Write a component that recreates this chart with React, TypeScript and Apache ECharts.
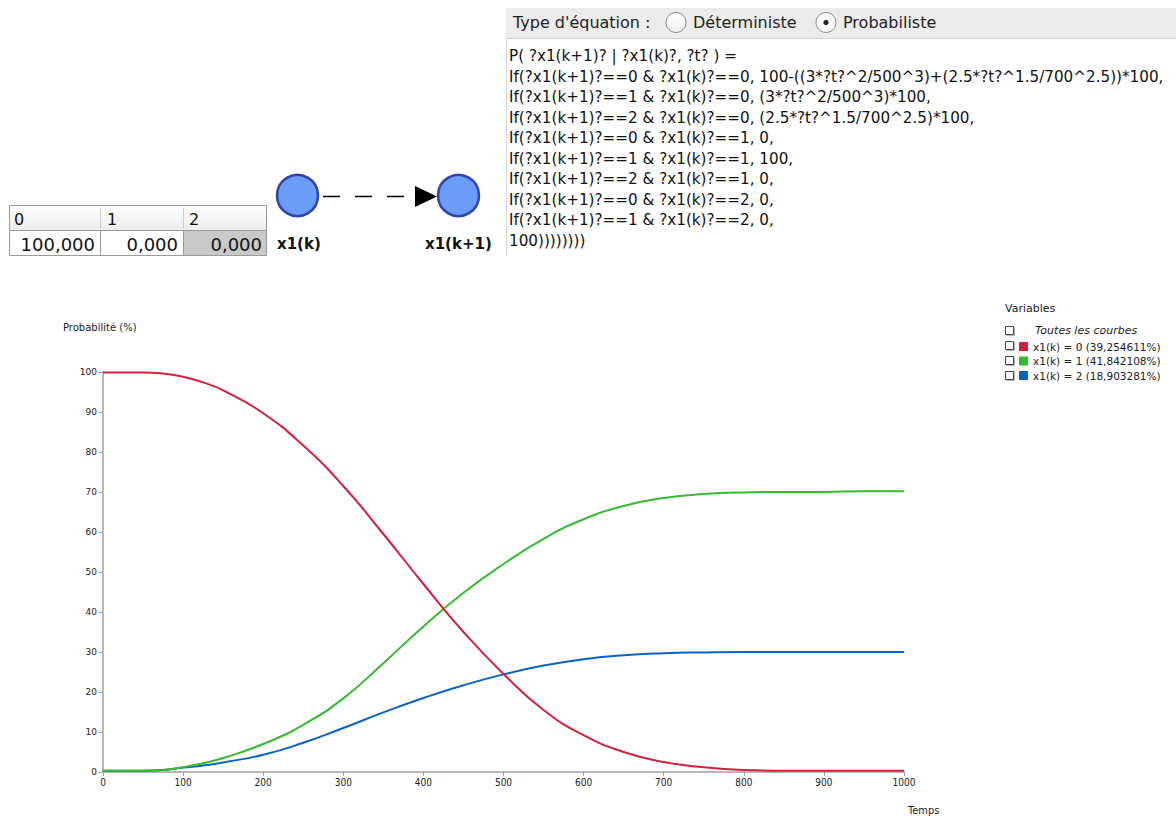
import React, { useEffect, useRef } from "react";
import * as echarts from "echarts";

const TIME = [0, 50, 75, 100, 125, 150, 200, 250, 300, 350, 400, 450, 500, 550, 600, 650, 700, 750, 800, 850, 900, 950, 1000];
const RED = [99.9, 99.9, 99.6, 98.8, 97.4, 95.4, 89.7, 81.6, 71.5, 59.5, 47, 35, 24.5, 15.5, 9.2, 5, 2.5, 1.2, 0.5, 0.3, 0.3, 0.3, 0.3];
const GREEN = [0.3, 0.3, 0.5, 1.2, 2.2, 3.5, 7, 11.8, 18.4, 27.2, 36.4, 44.8, 52, 58.3, 63.2, 66.5, 68.5, 69.5, 69.9, 70, 70, 70.2, 70.2];
const BLUE = [0.3, 0.3, 0.5, 1.1, 1.6, 2.4, 4.3, 7.3, 11, 14.9, 18.5, 21.7, 24.4, 26.6, 28.2, 29.2, 29.7, 29.9, 30, 30, 30, 30, 30];
const SERIES_NAMES = ["x1(k) = 0 (39,254611%)", "x1(k) = 1 (41,842108%)", "x1(k) = 2 (18,903281%)"];
const COLORS = ["#d42040", "#36bb30", "#0a62c8"];
const TABLE_HEAD = ["0", "1", "2"];
const TABLE_VALUES = ["100,000", "0,000", "0,000"];
const EQUATION = [
  "P( ?x1(k+1)? | ?x1(k)?, ?t? ) =",
  "If(?x1(k+1)?==0 & ?x1(k)?==0, 100-((3*?t?^2/500^3)+(2.5*?t?^1.5/700^2.5))*100,",
  "If(?x1(k+1)?==1 & ?x1(k)?==0, (3*?t?^2/500^3)*100,",
  "If(?x1(k+1)?==2 & ?x1(k)?==0, (2.5*?t?^1.5/700^2.5)*100,",
  "If(?x1(k+1)?==0 & ?x1(k)?==1, 0,",
  "If(?x1(k+1)?==1 & ?x1(k)?==1, 100,",
  "If(?x1(k+1)?==2 & ?x1(k)?==1, 0,",
  "If(?x1(k+1)?==0 & ?x1(k)?==2, 0,",
  "If(?x1(k+1)?==1 & ?x1(k)?==2, 0,",
  "100))))))))",
];

const UI = "'DejaVu Sans', 'Noto Sans', sans-serif";
const NARROW = "'Liberation Sans Narrow', 'DejaVu Sans Condensed', sans-serif";

export default function App() {
  const ref = useRef<HTMLDivElement>(null);
  useEffect(() => {
    if (!ref.current) return;
    const chart = echarts.init(ref.current, null, { renderer: "svg" });
    const seriesData = [RED, GREEN, BLUE];
    const g: any[] = [];
    const txt = (x: number, y: number, text: string, o: any = {}) =>
      g.push({
        type: "text",
        x,
        y,
        silent: true,
        style: {
          text,
          fill: o.fill || "#111",
          fontSize: o.size || 12,
          fontFamily: o.family || UI,
          fontWeight: o.weight || "normal",
          fontStyle: o.style || "normal",
          align: o.align || "left",
          verticalAlign: "middle",
        },
      });

    // Table
    g.push({ type: "rect", shape: { x: 9.5, y: 205.5, width: 257, height: 25 }, style: { fill: new echarts.graphic.LinearGradient(0, 0, 0, 1, [{ offset: 0, color: "#ffffff" }, { offset: 1, color: "#ececec" }]), stroke: "#9a9a9a", lineWidth: 1 } });
    g.push({ type: "rect", shape: { x: 9.5, y: 230.5, width: 257, height: 25 }, style: { fill: "#ffffff", stroke: "#9a9a9a", lineWidth: 1 } });
    g.push({ type: "rect", shape: { x: 184, y: 231, width: 82, height: 24 }, style: { fill: "#c9c9c9" } });
    [100.5, 183.5].forEach((x) => {
      g.push({ type: "line", shape: { x1: x, y1: 208, x2: x, y2: 228 }, style: { stroke: "#c8c8c8", lineWidth: 1 } });
      g.push({ type: "line", shape: { x1: x, y1: 231, x2: x, y2: 255 }, style: { stroke: "#9a9a9a", lineWidth: 1 } });
    });
    const headX = [14, 107, 189];
    TABLE_HEAD.forEach((h, i) => txt(headX[i], 219, h, { size: 16 }));
    const valX = [95, 178, 262];
    TABLE_VALUES.forEach((v, i) => txt(valX[i], 244, v, { size: 18, align: "right" }));

    // Nodes
    g.push({ type: "line", shape: { x1: 323, y1: 196.5, x2: 416, y2: 196.5 }, style: { stroke: "#000", lineWidth: 1.6, lineDash: [17, 15] } });
    g.push({ type: "polygon", shape: { points: [[415, 186], [437, 196.5], [415, 207]] }, style: { fill: "#000" } });
    [[297.5, 195.5], [458.5, 195.5]].forEach(([cx, cy]) =>
      g.push({ type: "circle", shape: { cx, cy, r: 20.5 }, style: { fill: "#6b9cf8", stroke: "#3344a8", lineWidth: 2.6 } })
    );
    txt(277, 244, "x1(k)", { size: 15, weight: "bold" });
    txt(425, 244, "x1(k+1)", { size: 15, weight: "bold" });

    // Equation panel
    g.push({ type: "rect", shape: { x: 506, y: 8, width: 670, height: 30 }, style: { fill: "#ececec" } });
    g.push({ type: "line", shape: { x1: 506, y1: 38.5, x2: 1176, y2: 38.5 }, style: { stroke: "#d0d0d0", lineWidth: 1 } });
    g.push({ type: "line", shape: { x1: 506.5, y1: 39, x2: 506.5, y2: 256 }, style: { stroke: "#d8d8d8", lineWidth: 1 } });
    txt(513, 22, "Type d'équation :", { size: 16, fill: "#222" });
    g.push({ type: "circle", shape: { cx: 676, cy: 22.5, r: 10 }, style: { fill: new echarts.graphic.LinearGradient(0, 0, 0, 1, [{ offset: 0, color: "#ffffff" }, { offset: 1, color: "#f0f0f0" }]), stroke: "#8a8a8a", lineWidth: 1 } });
    txt(693, 22, "Déterministe", { size: 16, fill: "#222" });
    g.push({ type: "circle", shape: { cx: 826, cy: 22.5, r: 10 }, style: { fill: "#fafafa", stroke: "#8a8a8a", lineWidth: 1 } });
    g.push({ type: "circle", shape: { cx: 826, cy: 22.5, r: 2.6 }, style: { fill: "#222" } });
    txt(843, 22, "Probabiliste", { size: 16, fill: "#222" });
    EQUATION.forEach((line, i) => txt(509, 56 + i * 20.55, line, { size: 15.2, fill: "#111" }));

    // Axis names
    txt(63, 327, "Probabilité (%)", { size: 10, fill: "#222" });
    txt(908, 810, "Temps", { size: 11, fill: "#222", family: NARROW });

    // Legend extras
    txt(1005, 308, "Variables", { size: 11, fill: "#222" });
    [326, 341, 356, 371].forEach((y) =>
      g.push({ type: "rect", shape: { x: 1005.5, y: y + 0.5, width: 8, height: 8 }, style: { fill: "#fff", stroke: "#444", lineWidth: 1, shadowBlur: 1, shadowColor: "rgba(0,0,0,0.3)", shadowOffsetX: 1, shadowOffsetY: 1 } })
    );
    txt(1035, 330.5, "Toutes les courbes", { size: 11, style: "italic", fill: "#222" });

    chart.setOption({
      animation: false,
      backgroundColor: "#ffffff",
      grid: { left: 103, top: 372, right: 272, bottom: 44, containLabel: false },
      legend: {
        orient: "vertical",
        left: 1019,
        top: 341,
        itemWidth: 9,
        itemHeight: 9,
        itemGap: 3.5,
        icon: "rect",
        selectedMode: false,
        padding: 0,
        itemStyle: { borderWidth: 0 },
        textStyle: { fontSize: 10.5, color: "#222", fontFamily: UI },
        data: SERIES_NAMES,
      },
      xAxis: {
        type: "value",
        min: 0,
        max: 1000,
        interval: 100,
        splitLine: { show: false },
        axisLine: { lineStyle: { color: "#a0a0a0", width: 1.5 } },
        axisTick: { length: 4, lineStyle: { color: "#a0a0a0" } },
        axisLabel: { fontSize: 10, color: "#222", margin: 5, fontFamily: NARROW, formatter: (v: number) => String(v) },
      },
      yAxis: {
        type: "value",
        min: 0,
        max: 100,
        interval: 10,
        splitLine: { show: false },
        axisLine: { show: true, lineStyle: { color: "#b8b8b8", width: 2 } },
        axisTick: { show: true, length: 4, lineStyle: { color: "#a0a0a0" } },
        axisLabel: { fontSize: 9, color: "#222", margin: 6, fontFamily: UI },
      },
      series: seriesData.map((d, i) => ({
        type: "line",
        name: SERIES_NAMES[i],
        data: TIME.map((t, j) => [t, d[j]]),
        smooth: 0.5,
        showSymbol: false,
        symbol: "none",
        color: COLORS[i],
        lineStyle: { width: 2, color: COLORS[i] },
        z: 3 - i,
      })),
      graphic: g,
    });
    return () => chart.dispose();
  }, []);
  return <div ref={ref} style={{ position: "absolute", left: 0, top: 0, width: 1176, height: 816 }} />;
}
